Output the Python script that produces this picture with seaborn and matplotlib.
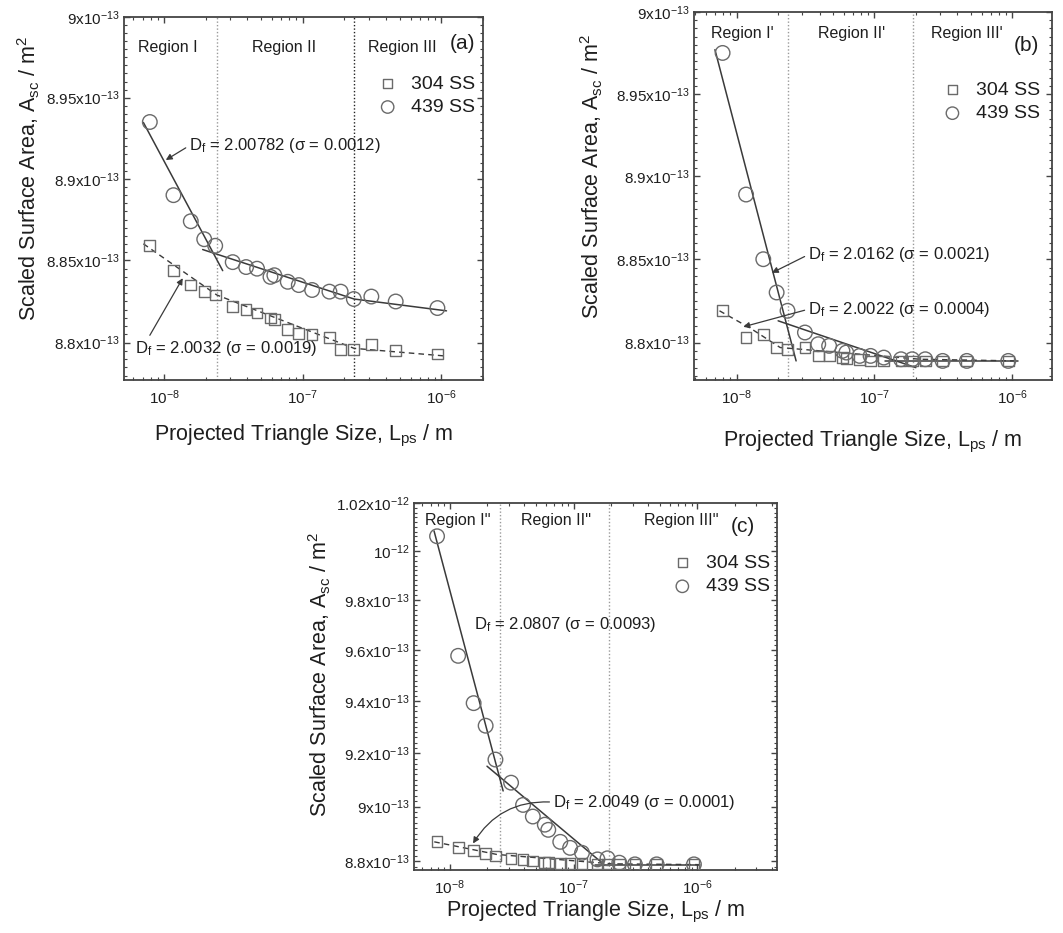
import numpy as np
import matplotlib
matplotlib.use("Agg")
import matplotlib.pyplot as plt
from matplotlib.ticker import FixedLocator, NullFormatter
import seaborn as sns

sns.set_style("ticks")
plt.rcParams["font.family"] = ["Liberation Sans", "DejaVu Sans"]
plt.rcParams["mathtext.default"] = "regular"
plt.rcParams["xtick.direction"] = "in"
plt.rcParams["ytick.direction"] = "in"
plt.rcParams["xtick.top"] = True
plt.rcParams["ytick.right"] = True

SCALE = 1e-13  # areas below are in units of 1e-13 m^2

# projected triangle size, m (same grid for all samples)
size_m = [7.9e-9, 1.17e-8, 1.56e-8, 1.95e-8, 2.34e-8, 3.13e-8, 3.91e-8, 4.69e-8, 5.86e-8, 6.25e-8,
          7.81e-8, 9.38e-8, 1.17e-7, 1.56e-7, 1.88e-7, 2.34e-7, 3.13e-7, 4.69e-7, 9.38e-7]

# (a)
area_a_304 = [8.859, 8.844, 8.835, 8.831, 8.829, 8.822, 8.820, 8.818, 8.815, 8.814,
              8.808, 8.8055, 8.805, 8.803, 8.796, 8.796, 8.799, 8.795, 8.793]
area_a_439 = [8.935, 8.890, 8.874, 8.863, 8.859, 8.849, 8.846, 8.845, 8.840, 8.841,
              8.837, 8.835, 8.832, 8.831, 8.831, 8.8265, 8.828, 8.825, 8.821]
# (b)
area_b_304 = [8.819, 8.803, 8.805, 8.797, 8.796, 8.797, 8.792, 8.792, 8.791, 8.7905,
              8.790, 8.789, 8.789, 8.789, 8.789, 8.789, 8.789, 8.789, 8.789]
area_b_439 = [8.975, 8.889, 8.850, 8.830, 8.819, 8.806, 8.799, 8.798, 8.795, 8.794,
              8.792, 8.792, 8.791, 8.790, 8.790, 8.790, 8.789, 8.789, 8.789]
# (c)
area_c_304 = [8.870, 8.848, 8.839, 8.828, 8.818, 8.810, 8.806, 8.800, 8.796, 8.794,
              8.792, 8.791, 8.790, 8.789, 8.789, 8.789, 8.788, 8.787, 8.787]
area_c_439 = [10.061, 9.577, 9.392, 9.305, 9.176, 9.089, 9.006, 8.963, 8.933, 8.914,
              8.870, 8.848, 8.830, 8.806, 8.810, 8.794, 8.788, 8.788, 8.788]

# fitted lines: (x list, y list)
fit_a_439 = [([7.1e-9, 2.65e-8], [8.9347, 8.8438]),
             ([1.9e-8, 2.35e-7, 1.09e-6], [8.8567, 8.8265, 8.8193])]
fit_a_304 = [([7.1e-9, 2.4e-8, 2.35e-7, 1.09e-6], [8.8602, 8.829, 8.7965, 8.7918])]
fit_b_439 = [([6.95e-9, 2.7e-8], [8.977, 8.789]),
             ([2.0e-8, 2.0e-7], [8.813, 8.785]),
             ([1.2e-7, 1.1e-6], [8.789, 8.789])]
fit_b_304 = [([7.5e-9, 1.25e-8, 2.07e-8, 2.15e-7, 1.1e-6], [8.819, 8.8087, 8.797, 8.790, 8.789])]
fit_c_439 = [([7.47e-9, 2.7e-8], [10.083, 9.058]),
             ([2.0e-8, 1.8e-7], [9.151, 8.784]),
             ([1.5e-7, 1.05e-6], [8.786, 8.786])]
fit_c_304 = [([7.5e-9, 2.4e-8, 2.0e-7, 1.05e-6], [8.870, 8.824, 8.790, 8.787])]

# region boundaries (m)
bounds_a = [2.4e-8, 2.33e-7]
bounds_b = [2.37e-8, 1.9e-7]
bounds_c = [2.53e-8, 1.94e-7]

regions_a = ["Region I", "Region II", "Region III"]
regions_b = ["Region I'", "Region II'", "Region III'"]
regions_c = ["Region I''", "Region II''", "Region III''"]

# annotations: text, arrow target (x, y) or None
notes_a = [("D$_f$ = 2.00782 (σ = 0.0012)", (1.03e-8, 8.9116)),
           ("D$_f$ = 2.0032 (σ = 0.0019)", (1.365e-8, 8.8392))]
notes_b = [("D$_f$ = 2.0162 (σ = 0.0021)", (1.8e-8, 8.8418)),
           ("D$_f$ = 2.0022 (σ = 0.0004)", (1.117e-8, 8.8094))]
notes_c = [("D$_f$ = 2.0807 (σ = 0.0093)", None),
           ("D$_f$ = 2.0049 (σ = 0.0001)", (1.543e-8, 8.8641))]

yticks_ab = [8.8, 8.85, 8.9, 8.95, 9.0]
ylabels_ab = ["8.8x10$^{-13}$", "8.85x10$^{-13}$", "8.9x10$^{-13}$", "8.95x10$^{-13}$", "9x10$^{-13}$"]
yticks_c = [8.8, 9.0, 9.2, 9.4, 9.6, 9.8, 10.0, 10.2]
ylabels_c = ["8.8x10$^{-13}$", "9x10$^{-13}$", "9.2x10$^{-13}$", "9.4x10$^{-13}$", "9.6x10$^{-13}$",
             "9.8x10$^{-13}$", "10$^{-12}$", "1.02x10$^{-12}$"]
xticks = [1e-8, 1e-7, 1e-6]
xlabels = ["10$^{-8}$", "10$^{-7}$", "10$^{-6}$"]

EDGE = "#6a6a6a"
LINE = "#3a3a3a"
TXT = "#1e1e1e"

panels = [
    dict(tag="(a)", rect=[0.1167, 0.5927, 0.3377, 0.3891], xlim=(5.15e-9, 2.0e-6), ylim=(8.7773, 9.0),
         s304=area_a_304, s439=area_a_439, f304=fit_a_304, f439=fit_a_439, bounds=bounds_a,
         bcol=["#9a9a9a", "#222222"], regions=regions_a, reg_x=[0.123, 0.446, 0.774], reg_y=0.917,
         tag_pos=(0.942, 0.928), notes=notes_a, note_pos=[(0.181, 0.645), (0.031, 0.088)],
         relpos=[(0, 0.5), (0.07, 1.0)], rad=[0, 0], leg=(0.978, 0.840),
         yt=yticks_ab, yl=ylabels_ab, ystep=0.005, ylab=(-0.228, 0.555), xlab=-0.118),
    dict(tag="(b)", rect=[0.6529, 0.5927, 0.3368, 0.3944], xlim=(4.9e-9, 1.95e-6), ylim=(8.7776, 9.0),
         s304=area_b_304, s439=area_b_439, f304=fit_b_304, f439=fit_b_439, bounds=bounds_b,
         bcol=["#9a9a9a", "#9a9a9a"], regions=regions_b, reg_x=[0.136, 0.44, 0.761], reg_y=0.943,
         tag_pos=(0.928, 0.910), notes=notes_b, note_pos=[(0.318, 0.340), (0.318, 0.192)],
         relpos=[(0, 0.5), (0, 0.5)], rad=[0, 0], leg=(0.966, 0.812),
         yt=yticks_ab, yl=ylabels_ab, ystep=0.005, ylab=(-0.249, 0.554), xlab=-0.133),
    dict(tag="(c)", rect=[0.3895, 0.0675, 0.3415, 0.3934], xlim=(5.15e-9, 4.4e-6), ylim=(8.7675, 10.2),
         s304=area_c_304, s439=area_c_439, f304=fit_c_304, f439=fit_c_439, bounds=bounds_c,
         bcol=["#9a9a9a", "#9a9a9a"], regions=regions_c, reg_x=[0.121, 0.392, 0.737], reg_y=0.952,
         tag_pos=(0.906, 0.935), notes=notes_c, note_pos=[(0.164, 0.670), (0.382, 0.185)],
         relpos=[(0, 0.5), (0, 0.5)], rad=[0, 0.3], leg=(0.98, 0.86),
         yt=yticks_c, yl=ylabels_c, ystep=0.02, ylab=(-0.223, 0.534), xlab=-0.079),
]

fig = plt.figure(figsize=(10.63, 9.33), dpi=100)

for p in panels:
    ax = fig.add_axes(p["rect"])
    ax.set_xscale("log")
    ax.set_yscale("log")

    for b, c in zip(p["bounds"], p["bcol"]):
        ax.axvline(b, color=c, linestyle=(0, (1, 1.5)), linewidth=1.0, zorder=1)

    for xs, ys in p["f439"]:
        sns.lineplot(x=xs, y=np.array(ys) * SCALE, ax=ax, color=LINE, linewidth=1.1,
                     sort=False, estimator=None, zorder=2)
    for xs, ys in p["f304"]:
        sns.lineplot(x=xs, y=np.array(ys) * SCALE, ax=ax, color=LINE, linewidth=1.0,
                     linestyle=(0, (4, 3)), sort=False, estimator=None, zorder=2)

    sns.scatterplot(x=size_m, y=np.array(p["s304"]) * SCALE, ax=ax, marker="s", s=60,
                    facecolors="none", edgecolors=EDGE, color=EDGE, linewidth=1.0,
                    label="304 SS", zorder=3)
    sns.scatterplot(x=size_m, y=np.array(p["s439"]) * SCALE, ax=ax, marker="o", s=110,
                    facecolors="none", edgecolors=EDGE, color=EDGE, linewidth=1.0,
                    label="439 SS", zorder=3)

    ax.set_xlim(*p["xlim"])
    ax.set_ylim(p["ylim"][0] * SCALE, p["ylim"][1] * SCALE)
    ax.set_xticks(xticks, xlabels)
    ax.xaxis.set_minor_locator(FixedLocator([m * 10.0 ** e for e in range(-9, -5) for m in range(2, 10)]))
    ax.xaxis.set_minor_formatter(NullFormatter())
    ax.set_yticks(np.array(p["yt"]) * SCALE, p["yl"])
    lo, hi = p["ylim"]
    minors = np.arange(p["yt"][0] - 10 * p["ystep"], hi + p["ystep"] / 2, p["ystep"])
    ax.yaxis.set_minor_locator(FixedLocator(minors * SCALE))
    ax.yaxis.set_minor_formatter(NullFormatter())
    ax.tick_params(which="major", length=4.5, width=1.0, color="#444444", labelsize=11,
                   labelcolor=TXT)
    ax.tick_params(axis="x", which="major", pad=6)
    ax.tick_params(axis="y", which="major", pad=3)
    ax.tick_params(which="minor", length=2.5, width=0.8, color="#444444")
    for sp in ax.spines.values():
        sp.set_color("#444444")
        sp.set_linewidth(1.3)

    ax.set_xlabel("Projected Triangle Size, L$_{ps}$ / m", fontsize=15.5, color=TXT)
    ax.set_ylabel("Scaled Surface Area, A$_{sc}$ / m$^2$", fontsize=15.5, color=TXT)
    ax.xaxis.set_label_coords(0.5, p["xlab"])
    ax.yaxis.set_label_coords(*p["ylab"])

    for name, rx in zip(p["regions"], p["reg_x"]):
        ax.text(rx, p["reg_y"], name, transform=ax.transAxes, ha="center", va="center",
                fontsize=11.5, color=TXT)
    ax.text(*p["tag_pos"], p["tag"], transform=ax.transAxes, ha="center", va="center",
            fontsize=15, color=TXT)

    for (txt, tip), pos, rp, rad in zip(p["notes"], p["note_pos"], p["relpos"], p["rad"]):
        if tip is None:
            ax.text(*pos, txt, transform=ax.transAxes, ha="left", va="center",
                    fontsize=12, color=TXT)
        else:
            ax.annotate(txt, xy=(tip[0], tip[1] * SCALE), xycoords="data",
                        xytext=pos, textcoords="axes fraction", ha="left", va="center",
                        fontsize=12, color=TXT,
                        arrowprops=dict(arrowstyle="-|>", color=LINE, lw=0.9, shrinkA=0,
                                        shrinkB=0, relpos=rp, mutation_scale=9,
                                        connectionstyle=f"arc3,rad={rad}"))

    ax.legend(loc="upper right", bbox_to_anchor=p["leg"], frameon=False, fontsize=14,
              handletextpad=0.6, borderaxespad=0, borderpad=0, labelspacing=0.3,
              handlelength=1.2, markerscale=0.85, labelcolor=TXT)

fig.savefig("out.png", dpi=100)
